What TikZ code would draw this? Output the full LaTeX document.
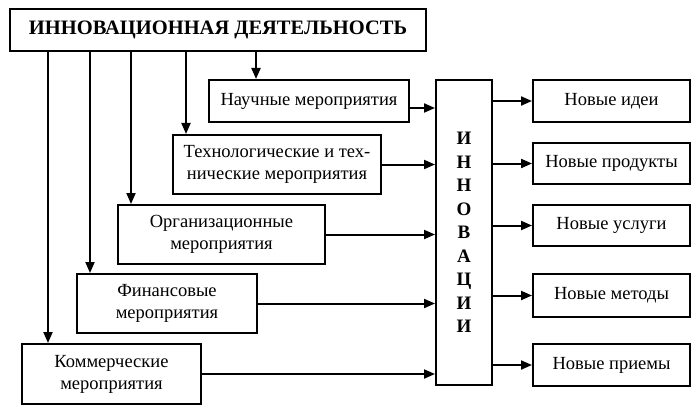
\documentclass[tikz,border=0pt]{standalone}
\usepackage{fontspec}
\setmainfont{Liberation Serif}
\usetikzlibrary{arrows.meta}
\tikzset{
  box/.style={draw, line width=2pt, align=center, inner sep=0pt,
    font=\fontsize{18.5}{22}\selectfont},
  arr/.style={line width=2pt, -{Triangle[length=11pt,width=9pt]}}
}
\begin{document}
\begin{tikzpicture}[x=1pt,y=-1pt]
\useasboundingbox (0,0) rectangle (700,414);
\node[box, minimum width=416pt, minimum height=42pt, font=\bfseries\fontsize{20.5}{22}\selectfont] (top) at (218,30) {ИННОВАЦИОННАЯ ДЕЯТЕЛЬНОСТЬ};
\node[box, minimum width=200pt, minimum height=42pt] (nauch) at (309,101) {Научные мероприятия};
\node[box, minimum width=208pt, minimum height=59pt] (tech) at (277,164.5) {Технологические и тех-\\нические мероприятия};
\node[box, minimum width=207pt, minimum height=59pt] (org) at (221.5,234.5) {Организационные\\мероприятия};
\node[box, minimum width=180pt, minimum height=59pt] (fin) at (167,303.5) {Финансовые\\мероприятия};
\node[box, minimum width=179pt, minimum height=60pt] (kom) at (111.5,374) {Коммерческие\\мероприятия};
\node[box, minimum width=56pt, minimum height=305pt, font=\bfseries\fontsize{19}{23.5}\selectfont] (inn) at (464,232.5) {И\\Н\\Н\\О\\В\\А\\Ц\\И\\И};
\node[box, minimum width=157pt, minimum height=42pt] (r1) at (611.5,101) {Новые идеи};
\node[box, minimum width=157pt, minimum height=41pt] (r2) at (611.5,163.5) {Новые продукты};
\node[box, minimum width=157pt, minimum height=41pt] (r3) at (611.5,225.5) {Новые услуги};
\node[box, minimum width=157pt, minimum height=43pt] (r4) at (611.5,295.5) {Новые методы};
\node[box, minimum width=157pt, minimum height=42pt] (r5) at (611.5,365) {Новые приемы};
% down lines
\coordinate (a1) at ([xshift=27pt]kom.north west);
\coordinate (a2) at ([xshift=14pt]fin.north west);
\coordinate (a3) at ([xshift=14pt]org.north west);
\coordinate (a4) at ([xshift=14pt]tech.north west);
\coordinate (a5) at ([xshift=48pt]nauch.north west);
\foreach \c in {a1,a2,a3,a4,a5} \draw[arr] (\c |- top.south) -- (\c);
% into innovations
\coordinate (b1) at ([yshift=-7pt]nauch.east);
\draw[arr] (b1) -- (b1 -| inn.west);
\foreach \n in {tech,org,fin,kom} \draw[arr] (\n.east) -- (\n.east -| inn.west);
% out
\foreach \n in {r1,r2,r3,r4,r5} \draw[arr] (\n.west -| inn.east) -- (\n.west);
\end{tikzpicture}
\end{document}
